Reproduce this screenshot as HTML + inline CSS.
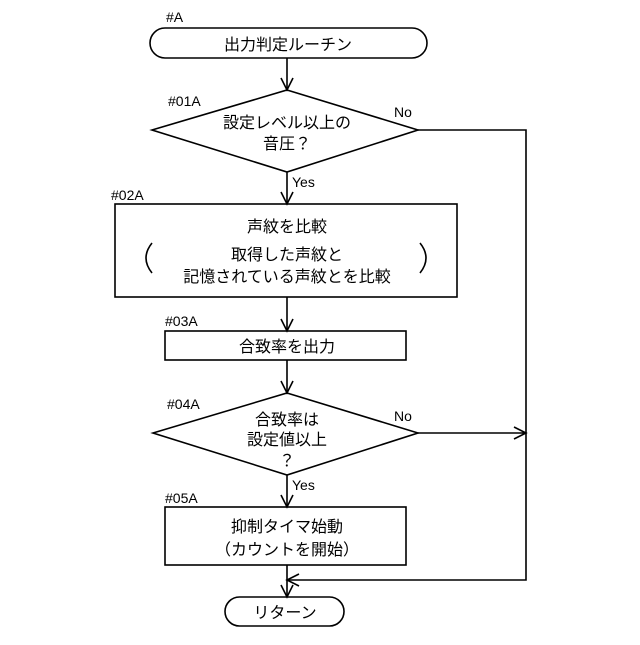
<!DOCTYPE html>
<html><head><meta charset="utf-8"><style>
body{margin:0;background:#fff}
svg text{font-family:"Liberation Sans","Noto Sans CJK JP",sans-serif;fill:#000}
</style></head><body>
<svg width="640" height="640" viewBox="0 0 640 640" xmlns="http://www.w3.org/2000/svg">
<g fill="none" stroke="#000" stroke-width="1.6">
<rect x="150" y="28" width="277" height="30" rx="15"/>
<polygon points="287,90 418,130 287,172 152,130"/>
<rect x="115" y="204" width="342" height="93"/>
<rect x="165" y="331" width="241" height="29"/>
<polygon points="287,393 418,433 287,475 153,433"/>
<rect x="165" y="507" width="241" height="58"/>
<rect x="225" y="597" width="119" height="29" rx="14.5"/>
<path d="M287 58V90M287 172V204M287 297V331M287 360V393M287 475V507M287 565V597"/>
<path d="M281 78L287 90L293 78M281 192L287 204L293 192M281 319L287 331L293 319M281 381L287 393L293 381M281 495L287 507L293 495M281 585L287 597L293 585"/>
<path d="M418 130H526V580H287"/>
<path d="M418 433H526M514 427L526 433L514 439M299 574L287 580L299 586"/>
<path d="M152 243Q140 258 152 273M420 243Q432 258 420 273"/>
</g>
<g font-size="16" text-anchor="middle">
<text x="288" y="50">出力判定ルーチン</text>
<text x="287" y="128">設定レベル以上の</text>
<text x="287" y="149">音圧？</text>
<text x="287" y="232">声紋を比較</text>
<text x="287" y="260">取得した声紋と</text>
<text x="287" y="282">記憶されている声紋とを比較</text>
<text x="287" y="352">合致率を出力</text>
<text x="287" y="425">合致率は</text>
<text x="287" y="445">設定値以上</text>
<text x="287" y="466">？</text>
<text x="287" y="532">抑制タイマ始動</text>
<text x="287" y="555">（カウントを開始）</text>
<text x="285" y="618">リターン</text>
</g>
<g font-size="14">
<text x="166" y="22">#A</text>
<text x="168" y="106">#01A</text>
<text x="394" y="117">No</text>
<text x="292" y="187">Yes</text>
<text x="111" y="200">#02A</text>
<text x="165" y="326">#03A</text>
<text x="167" y="409">#04A</text>
<text x="394" y="421">No</text>
<text x="292" y="490">Yes</text>
<text x="165" y="503">#05A</text>
</g>
</svg>
</body></html>
